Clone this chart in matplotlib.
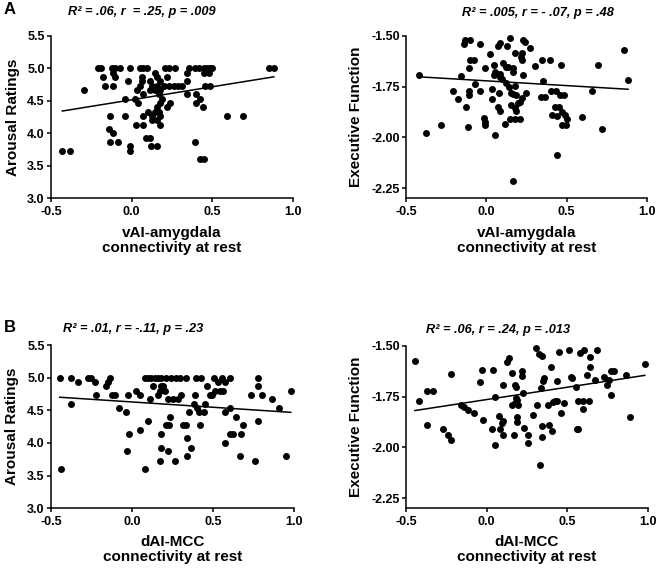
import matplotlib
matplotlib.use("Agg")
import matplotlib.pyplot as plt
import numpy as np
from matplotlib.ticker import FormatStrFormatter

plt.rcParams['font.family'] = ['Liberation Sans', 'DejaVu Sans']
plt.rcParams['font.weight'] = 'bold'

# ---------------- data ----------------
# Panel A left: vAI-amygdala connectivity vs Arousal Ratings
a1_x = [-0.21, -0.19, -0.123, -0.102, -0.071, -0.009, 0.049, 0.073, 0.098, 0.208, 0.229, 0.27, 0.353, 0.394, 0.415, 0.446, 0.467, 0.487, 0.498, 0.85, 0.881,
        -0.113, 0.146, 0.343, 0.446, 0.477,
        -0.18, -0.102, 0.063, 0.156, 0.218,
        -0.02, 0.063, 0.115, 0.177, 0.343,
        -0.165, -0.113, 0.053, 0.125, 0.156, 0.198, 0.229, 0.26, 0.29, 0.311, 0.456, 0.487,
        -0.295, 0.032, 0.115, 0.146, 0.177,
        0.073, 0.167, 0.343, 0.40,
        -0.04, 0.022, 0.187, 0.425,
        0.042, 0.177, 0.239, 0.40,
        0.156, 0.218, 0.442,
        0.104, 0.146, 0.167,
        -0.134, -0.04, 0.073, 0.125, 0.177, 0.591, 0.69,
        0.125, 0.156,
        0.028, 0.069, 0.177,
        -0.138,
        -0.113,
        0.09, 0.111,
        -0.134, -0.082, 0.39,
        -0.009, 0.119, 0.16,
        -0.43, -0.38, -0.009,
        0.425, 0.45]
a1_y = [5.00] * 21 + [4.93] * 5 + [4.87] * 5 + [4.80] * 5 + [4.73] * 12 + [4.67] * 5 + \
       [4.60] * 4 + [4.53] * 4 + [4.47] * 4 + [4.40] * 3 + [4.33] * 3 + [4.27] * 7 + \
       [4.20] * 2 + [4.13] * 3 + [4.07] * 1 + [4.00] * 1 + [3.93] * 2 + [3.87] * 3 + \
       [3.80] * 3 + [3.73] * 3 + [3.60] * 2
a1_fit = (0.402, 4.517)  # slope, intercept

# Panel A right: vAI-amygdala connectivity vs Executive Function
a2_x = [-0.419, -0.378, -0.285, -0.207, -0.176, -0.157, -0.14, -0.13, -0.099, -0.037, -0.103, -0.079, -0.11, -0.068,
        -0.11, -0.11, -0.037, -0.126, -0.016, -0.006, -0.006, -0.115, 0.021, 0.045, -0.006, 0.056, 0.066, 0.083,
        0.05, 0.087, 0.097, 0.035, 0.035, 0.081, 0.072, 0.083, 0.056, 0.072, 0.083, 0.128, 0.145, 0.103, 0.124,
        0.132, 0.165, 0.169, 0.114, 0.12, 0.138, 0.18, 0.18, 0.155, 0.169, 0.184, 0.155, 0.18, 0.184, 0.149, 0.18,
        0.211, 0.165, 0.194, 0.211, 0.221, 0.221, 0.231, 0.242, 0.215, 0.223, 0.231, 0.244, 0.273, 0.303, 0.345,
        0.396, 0.355, 0.34, 0.366, 0.4, 0.432, 0.463, 0.459, 0.484, 0.427, 0.455, 0.442, 0.407, 0.469, 0.49, 0.5,
        0.469, 0.496, 0.442, 0.593, 0.655, 0.696, 0.723, 0.855, 0.882]
a2_y = [-1.690, -1.980, -1.939, -1.770, -1.811, -1.698, -1.541, -1.521, -1.521, -1.541, -1.619, -1.619, -1.660, -1.739,
        -1.770, -1.791, -1.770, -1.849, -1.906, -1.923, -1.939, -1.950, -1.590, -1.641, -1.660, -1.677, -1.685, -1.685,
        -1.690, -1.701, -1.714, -1.762, -1.811, -1.780, -1.849, -1.870, -1.990, -1.551, -1.534, -1.551, -1.508, -1.631, -1.652,
        -1.655, -1.657, -1.677, -1.934, -1.734, -1.751, -1.583, -1.747, -1.780, -1.786, -1.791, -1.841, -1.857, -1.870, -1.909, -1.909,
        -1.909, -2.217, -1.832, -1.824, -1.808, -1.583, -1.521, -1.529, -1.603, -1.619, -1.690, -1.780, -1.559, -1.649, -1.619,
        -1.619, -1.721, -1.800, -1.800, -1.770, -1.770, -1.641, -1.791, -1.791, -1.849, -1.849, -1.895, -1.890, -1.873, -1.890, -1.911,
        -1.939, -1.939, -2.086, -1.898, -1.770, -1.641, -1.958, -1.570, -1.718]
a2_fit = (-0.047, -1.721)

# Panel B left: dAI-MCC connectivity vs Arousal Ratings
b1_x = [-0.446, -0.374, -0.271, -0.251, -0.138, 0.078, 0.099, 0.12, 0.14, 0.161, 0.182, 0.212, 0.243, 0.274, 0.295, 0.336, 0.393, 0.428, 0.507, 0.558, 0.603, 0.778,
        -0.333, -0.23, -0.148, 0.531, 0.572,
        -0.158, 0.13, 0.182, 0.192, 0.463, 0.778,
        0.027, 0.171, 0.202, 0.51, 0.541, 0.562, 0.98,
        -0.22, -0.121, -0.107, -0.025, 0.048, 0.161, 0.305, 0.387, 0.48, 0.496, 0.737, 0.805,
        0.109, 0.223, 0.254, 0.284, 0.867,
        -0.374, 0.383, 0.453,
        -0.08, 0.402, 0.603, 0.908,
        -0.039, 0.352, 0.414, 0.443, 0.572,
        0.233, 0.644,
        0.099, 0.778,
        0.208, 0.229, 0.315, 0.332, 0.418, 0.685,
        0.048,
        -0.019, 0.182, 0.607, 0.624, 0.675,
        0.342,
        0.572,
        0.182, 0.363,
        -0.031, 0.223,
        0.342, 0.665, 0.953,
        0.171, 0.264, 0.757,
        -0.436, 0.078]
b1_y = [5.00] * 22 + [4.93] * 5 + [4.87] * 6 + [4.80] * 7 + [4.73] * 12 + [4.67] * 5 + \
       [4.60] * 3 + [4.53] * 4 + [4.47] * 5 + [4.40] * 2 + [4.33] * 2 + [4.27] * 6 + \
       [4.20] * 1 + [4.13] * 5 + [4.07] * 1 + [4.00] * 1 + [3.93] * 2 + [3.87] * 2 + \
       [3.80] * 3 + [3.73] * 3 + [3.60] * 2
b1_fit = (-0.162, 4.628)

# Panel B right: dAI-MCC connectivity vs Executive Function
b2_x = [-0.445, -0.42, -0.368, -0.331, -0.368, -0.273, -0.242, -0.22, -0.22, -0.161, -0.141, -0.114, -0.079, -0.041,
        -0.031, -0.021, 0.031, 0.041, 0.051, 0.051, 0.078, 0.082, 0.099, 0.093, 0.103, 0.099, 0.128, 0.136, 0.159,
        0.175, 0.18, 0.159, 0.175, 0.182, 0.19, 0.196, 0.19, 0.19, 0.169, 0.221, 0.221, 0.227, 0.231, 0.258, 0.258,
        0.289, 0.309, 0.305, 0.326, 0.341, 0.334, 0.347, 0.355, 0.341, 0.341, 0.382, 0.388, 0.399, 0.403, 0.413,
        0.426, 0.438, 0.438, 0.45, 0.459, 0.481, 0.51, 0.52, 0.527, 0.551, 0.557, 0.568, 0.568, 0.578, 0.595, 0.599,
        0.603, 0.62, 0.636, 0.641, 0.641, 0.672, 0.682, 0.727, 0.748, 0.76, 0.769, 0.769, 0.791, 0.863, 0.888, 0.98, 0.33]
b2_y = [-1.573, -1.771, -1.722, -1.722, -1.889, -1.910, -1.941, -1.962, -1.640, -1.794, -1.802, -1.815, -1.831, -1.681,
        -1.622, -1.864, -1.910, -1.622, -1.750, -1.990, -1.848, -1.910, -1.693, -1.880, -1.869, -1.938, -1.578, -1.562, -1.635,
        -1.693, -1.704, -1.791, -1.782, -1.755, -1.766, -1.791, -1.853, -1.873, -1.938, -1.624, -1.647, -1.733, -1.905, -1.941, -1.978,
        -1.840, -1.791, -1.513, -1.542, -1.549, -1.706, -1.673, -1.660, -1.897, -1.951, -1.791, -1.889, -1.603, -1.918, -1.777,
        -1.771, -1.771, -1.673, -1.532, -1.831, -1.782, -1.521, -1.652, -1.657, -1.701, -1.910, -1.910, -1.771, -1.534, -1.771, -1.812,
        -1.521, -1.644, -1.771, -1.554, -1.603, -1.668, -1.521, -1.652, -1.693, -1.668, -1.624, -1.742, -1.624, -1.644, -1.851, -1.590, -2.088]
b2_fit = (0.1215, -1.765)

x_ticks = [-0.5, 0.0, 0.5, 1.0]
arousal_ticks = [3.0, 3.5, 4.0, 4.5, 5.0, 5.5]
exec_ticks = [-2.25, -2.00, -1.75, -1.50]

titles = ["R² = .06, r  = .25, p = .009", "R² = .005, r = - .07, p = .48",
          "R² = .01, r = -.11, p = .23", "R² = .06, r = .24, p = .013"]
xlabels = ["vAI-amygdala\nconnectivity at rest", "vAI-amygdala\nconnectivity at rest",
           "dAI-MCC\nconnectivity at rest", "dAI-MCC\nconnectivity at rest"]
ylabels = ["Arousal Ratings", "Executive Function", "Arousal Ratings", "Executive Function"]
panel_letters = ["A", "B"]

# ---------------- figure ----------------
W, H = 660, 571
fig = plt.figure(figsize=(W / 100, H / 100), dpi=100)

def px_rect(l, t, r, b):
    return [l / W, 1 - b / H, (r - l) / W, (b - t) / H]

rects = [px_rect(51, 36, 293, 198.3), px_rect(406, 36, 647, 198.3),
         px_rect(51, 345, 294, 508.3), px_rect(406, 345.7, 648, 508.3)]
title_pos = [(68, 12.5), (462, 13), (62.7, 329), (426, 330)]
ylabel_pos = [(13, 117), (356, 117), (12, 426.5), (356, 427)]
xlabel_y = [-0.258, -0.258, -0.252, -0.252]

datasets = [(a1_x, a1_y, a1_fit, 'ar'), (a2_x, a2_y, a2_fit, 'ex'),
            (b1_x, b1_y, b1_fit, 'ar'), (b2_x, b2_y, b2_fit, 'ex')]

for i, (xs, ys, fit, kind) in enumerate(datasets):
    ax = fig.add_axes(rects[i])
    xs = np.asarray(xs)
    ys = np.asarray(ys)
    ax.scatter(xs, ys, s=25, c='black', linewidths=0, clip_on=False, zorder=3)
    lx = np.array([xs.min(), xs.max()])
    ax.plot(lx, fit[0] * lx + fit[1], color='black', lw=1.1, zorder=4)
    ax.set_xlim(-0.5, 1.0)
    ax.set_xticks(x_ticks)
    ax.xaxis.set_major_formatter(FormatStrFormatter('%.1f'))
    if kind == 'ar':
        ax.set_ylim(3.0, 5.5)
        ax.set_yticks(arousal_ticks)
        ax.yaxis.set_major_formatter(FormatStrFormatter('%.1f'))
    else:
        ax.set_ylim(-2.3, -1.5)
        ax.set_yticks(exec_ticks)
        ax.yaxis.set_major_formatter(FormatStrFormatter('%.2f'))
    for s in ['top', 'right']:
        ax.spines[s].set_visible(False)
    for s in ['left', 'bottom']:
        ax.spines[s].set_linewidth(1.1)
    ax.tick_params(axis='both', direction='out', length=3, width=1.1, labelsize=9)
    ax.tick_params(axis='y', pad=1.5)
    ax.tick_params(axis='x', pad=2.5)
    for lab in ax.get_xticklabels() + ax.get_yticklabels():
        lab.set_fontweight('bold')
    ax.text(0.5, xlabel_y[i], xlabels[i], transform=ax.transAxes, ha='center', va='center',
            fontsize=11, fontweight='bold', linespacing=1.1)
    fig.text(ylabel_pos[i][0] / W, 1 - ylabel_pos[i][1] / H, ylabels[i], rotation=90,
             ha='center', va='center', fontsize=11, fontweight='bold')
    fig.text(title_pos[i][0] / W, 1 - title_pos[i][1] / H, titles[i], ha='left', va='center',
             fontsize=9.2, fontweight='bold', fontstyle='italic')

fig.text(10 / W, 1 - 9 / H, panel_letters[0], ha='center', va='center', fontsize=12, fontweight='bold')
fig.text(10 / W, 1 - 328 / H, panel_letters[1], ha='center', va='center', fontsize=12, fontweight='bold')

fig.savefig('out.png', dpi=100)
